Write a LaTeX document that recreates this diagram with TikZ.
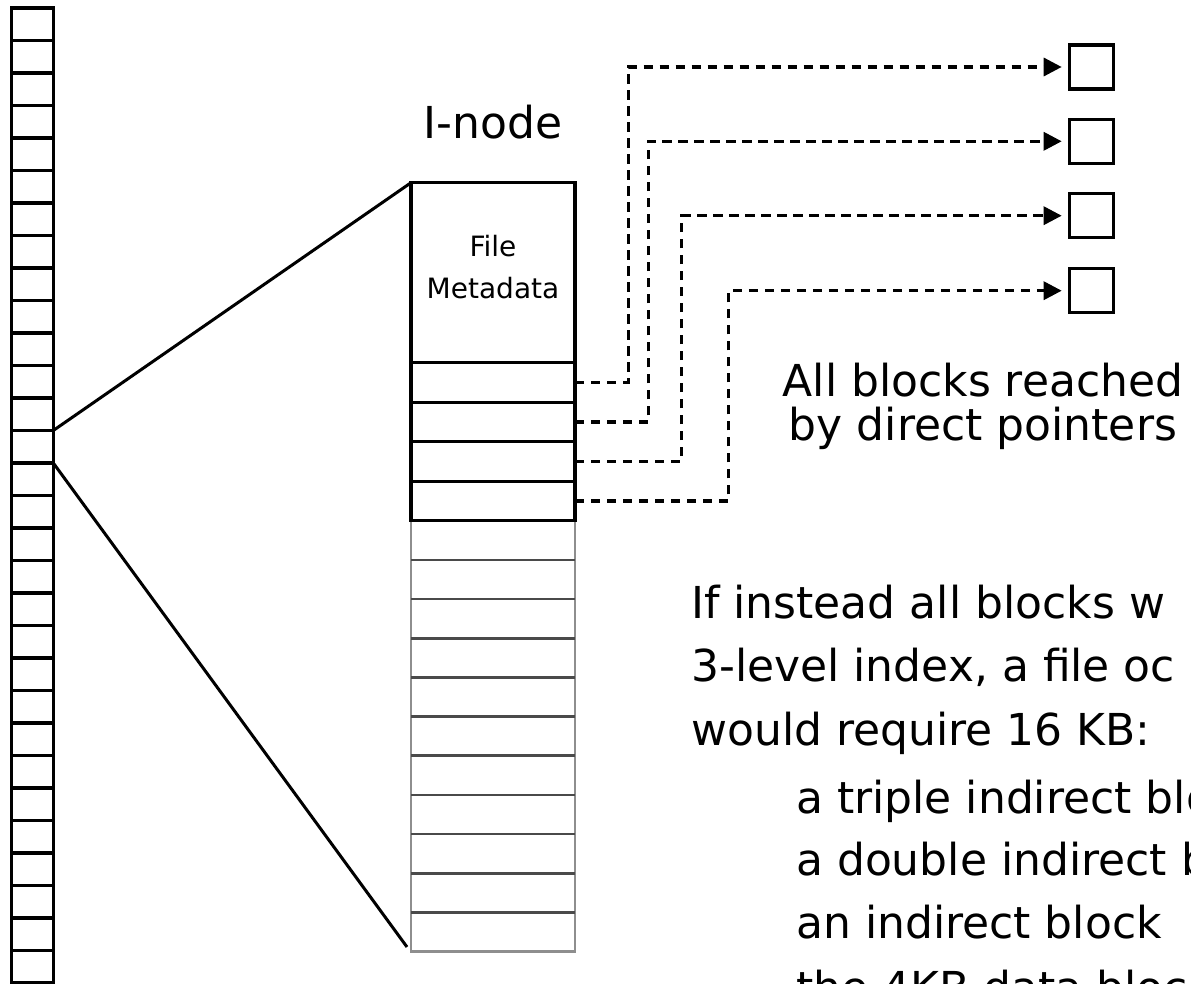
\documentclass[tikz,border=0pt]{standalone}
\usepackage{fontspec}
\setmainfont{DejaVu Sans}
\usetikzlibrary{arrows.meta}
\definecolor{edgegray}{HTML}{8E8E8E}
\definecolor{rulegray}{HTML}{4A4A4A}
\tikzset{
  diskcell/.style={draw=black, line width=3.3pt, minimum width=41.6pt,
    minimum height=32.5pt, inner sep=0pt, outer sep=0pt},
  slot/.style={draw=black, line width=3.3pt, minimum width=164pt,
    inner sep=0pt, outer sep=0pt},
  datablk/.style={draw=black, line width=3.3pt, minimum size=44pt,
    inner sep=0pt, outer sep=0pt},
  ptr/.style={line width=3.3pt, dash pattern=on 9.3pt off 6.7pt,
    -{Triangle[length=18pt,width=18pt]}, shorten >=8pt},
  link/.style={line width=3pt},
  bigtext/.style={font=\fontsize{44}{44}\selectfont, inner sep=0pt},
  smalltext/.style={font=\fontsize{28}{28}\selectfont, inner sep=0pt, anchor=base},
}
\begin{document}
\begin{tikzpicture}[x=1pt,y=-1pt]
\useasboundingbox (0,0) rectangle (1191,984);
\clip (0,0) rectangle (1191,984);

% disk: a long column of blocks
\foreach \k in {0,...,30}
  \node[diskcell] (c\k) at (32.5, 24.25+32.5*\k) {};

% unused part of the i-node, drawn in gray
\draw[edgegray, line width=2.7pt] (411,520.7) -- (411,951.7) -- (575,951.7) -- (575,520.7);
\foreach \k in {1,...,10}
  \draw[rulegray, line width=2.7pt] (411,520.7+39.18*\k) -- (575,520.7+39.18*\k);

% i-node: metadata and four direct pointers
\node[slot, minimum height=180pt] (meta) at (493,272.7) {};
\node[slot, minimum height=39.5pt] (p1) at (493,382.45) {};
\node[slot, minimum height=39.5pt] (p2) at (493,421.95) {};
\node[slot, minimum height=39.5pt] (p3) at (493,461.45) {};
\node[slot, minimum height=39.5pt] (p4) at (493,500.95) {};

\node[smalltext] (metaA) at (493,256.7) {File};
\node[smalltext] (metaB) at (493,298.3) {Metadata};
\node[bigtext, anchor=base] (inode) at (493,138.3) {I-node};

% zoom lines from the disk block to the i-node
\coordinate (lowend) at (407,947);
\draw[link] (c13.north east) -- (meta.north west);
\draw[link] (c13.south east) -- (lowend);

% data blocks
\node[datablk] (b1) at (1091.7,67) {};
\node[datablk] (b2) at (1091.7,141.3) {};
\node[datablk] (b3) at (1091.7,215.7) {};
\node[datablk] (b4) at (1091.7,290.7) {};

% direct pointers
\draw[ptr] (p1.east) -- ++(53.3,0) |- (b1.west);
\draw[ptr] (p2.east) -- ++(73.3,0) |- (b2.west);
\draw[ptr] (p3.east) -- ++(106.7,0) |- (b3.west);
\draw[ptr] (p4.east) -- ++(153.3,0) |- (b4.west);

% notes
\node[bigtext, anchor=base] (noteA) at (983,396) {All blocks reached};
\node[bigtext, anchor=base] (noteB) at (983,440) {by direct pointers};

\node[bigtext, anchor=base west] (t1) at (691,618.3) {If instead all blocks w};
\node[bigtext, anchor=base west] (t2) at (691,681.7) {3-level index, a file oc};
\node[bigtext, anchor=base west] (t3) at (691,745) {would require 16 KB:};
\node[bigtext, anchor=base west] (t4) at (796,813.3) {a triple indirect blo};
\node[bigtext, anchor=base west] (t5) at (796,875) {a double indirect bl};
\node[bigtext, anchor=base west] (t6) at (796,938.3) {an indirect block};
\node[bigtext, anchor=base west] (t7) at (796,1003) {the 4KB data block};
\end{tikzpicture}
\end{document}
